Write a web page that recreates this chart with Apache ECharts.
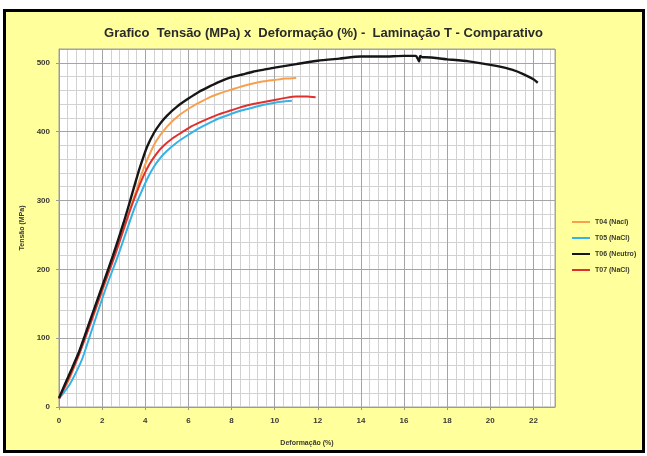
<!DOCTYPE html>
<html>
<head>
<meta charset="utf-8">
<script src="https://cdn.jsdelivr.net/npm/echarts@6/dist/echarts.min.js"></script>
<style>
  html, body { margin: 0; padding: 0; background: #fff; }
  #chart { width: 647px; height: 456px; }
</style>
</head>
<body>
<div id="chart"></div>
<script>
// Tensão (MPa) vs Deformação (%)
const seriesNames = ['T04 (Nacl)', 'T05 (NaCl)', 'T06 (Neutro)', 'T07 (NaCl)']
const seriesColors = ['#F7A04E', '#35B2E6', '#161616', '#E0302E']

const t04 = [[0,13],[0.5,42],[0.9,75],[1.5,125],[2,168],[2.58,221],[3,258],[3.3,288],[3.6,316],[3.85,340],[4.1,360],[4.5,386],[5,407],[5.5,422],[6.1,435],[6.5,442],[7,450],[7.4,455],[8,461],[8.5,466],[9,470],[9.5,473],[10,475],[10.5,477],[11,478]]
const t05 = [[0,12],[0.5,33],[1,64],[1.17,78],[1.67,126],[2.2,175],[2.75,221],[3.2,262],[3.5,289],[3.84,314],[4.1,332],[4.4,349],[4.7,362],[5,372],[5.5,385],[5.93,394],[6.5,405],[7,413],[7.4,419],[8,426],[8.5,431],[9,435],[9.5,439],[10,442],[10.5,444],[10.8,445]]
const t06 = [[0,13],[0.3,35],[0.6,56],[0.9,78],[1.2,104],[1.5,131],[2,175],[2.5,220],[3,268],[3.45,316],[3.7,343],[3.9,362],[4.1,379],[4.4,398],[4.7,412],[5,423],[5.5,437],[6,448],[6.5,458],[7,466],[7.4,472],[8,479],[8.5,483],[9,487],[9.5,490],[10,493],[11,498],[12,503],[13,506],[14,509],[15,509],[16,510],[16.55,510],[16.65,505],[16.7,502],[16.75,510],[16.85,508],[17,508],[18,505],[19,502],[20,497],[20.5,494],[21,490],[21.5,484],[22,476],[22.2,471]]
const t07 = [[0,12],[0.5,45],[0.95,78],[1.5,125],[2,170],[2.6,221],[3.1,268],[3.4,295],[3.68,318],[3.95,338],[4.2,353],[4.5,367],[4.8,378],[5.3,391],[5.8,401],[6.1,407],[6.5,413],[7,420],[7.4,425],[8,431],[8.5,436],[9,440],[9.5,443],[10,446],[10.5,449],[11,451],[11.5,451],[11.9,450]]
const allData = [t04, t05, t06, t07]

const xMax = 23
const yMax = 520

const chart = echarts.init(document.getElementById('chart'))

const labelFont = { fontSize: 8, fontWeight: 'bold', color: '#3a3a30', fontFamily: 'Liberation Sans' }

let option = {
  backgroundColor: '#ffffff',
  color: seriesColors,
  animation: false,
  graphic: [{
    type: 'rect',
    z: -100,
    shape: { x: 4.5, y: 10.5, width: 639, height: 441 },
    style: { fill: '#FFFF9C', stroke: '#000', lineWidth: 3 }
  }],
  title: {
    text: 'Grafico  Tensão (MPa) x  Deformação (%) -  Laminação T - Comparativo',
    left: 'center',
    top: 22,
    textStyle: { fontSize: 13, fontWeight: 'bold', color: '#2a2a2a', fontFamily: 'Liberation Sans' }
  },
  legend: {
    data: seriesNames,
    orient: 'vertical',
    left: 572,
    top: 217,
    icon: 'rect',
    itemWidth: 18,
    itemHeight: 2,
    itemGap: 6,
    padding: 0,
    textStyle: { fontSize: 7, fontWeight: 'bold', color: '#3a3a30', lineHeight: 10, fontFamily: 'Liberation Sans' }
  },
  grid: {
    left: 59, right: 92, top: 49, bottom: 49,
    show: true,
    backgroundColor: '#ffffff',
    borderColor: '#a0a0a0',
    borderWidth: 1
  },
  xAxis: [
    {
      type: 'value', min: 0, max: xMax, interval: 2, z: 1,
      name: 'Deformação (%)', nameLocation: 'middle', nameGap: 33,
      nameTextStyle: { fontSize: 7, fontWeight: 'bold', color: '#3a3a30', fontFamily: 'Liberation Sans' },
      axisLine: { lineStyle: { color: '#9a9a9a' } },
      axisTick: { show: true, length: 3, lineStyle: { color: '#9a9a9a' } },
      axisLabel: Object.assign({ margin: 10, showMaxLabel: false }, labelFont),
      splitLine: { lineStyle: { color: '#a4a4a4', width: 1 } }
    },
    {
      type: 'value', min: 0, max: xMax, interval: 0.4, z: 0,
      axisLine: { show: false }, axisTick: { show: false }, axisLabel: { show: false },
      splitLine: { lineStyle: { color: '#d2d2d2', width: 1 } }
    }
  ],
  yAxis: [
    {
      type: 'value', min: 0, max: yMax, interval: 100, z: 1,
      name: 'Tensão (MPa)', nameLocation: 'middle', nameGap: 33,
      nameTextStyle: { fontSize: 7, fontWeight: 'bold', color: '#3a3a30', fontFamily: 'Liberation Sans' },
      axisLine: { show: true, lineStyle: { color: '#9a9a9a' } },
      axisTick: { show: true, length: 3, lineStyle: { color: '#9a9a9a' } },
      axisLabel: Object.assign({ margin: 9, showMaxLabel: false }, labelFont),
      splitLine: { lineStyle: { color: '#a4a4a4', width: 1 } }
    },
    {
      type: 'value', min: 0, max: yMax, interval: 20, z: 0,
      axisLine: { show: false }, axisTick: { show: false }, axisLabel: { show: false },
      splitLine: { lineStyle: { color: '#d2d2d2', width: 1 } }
    }
  ],
  series: seriesNames.map((name, i) => ({
    name: name,
    type: 'line',
    xAxisIndex: 0,
    yAxisIndex: 0,
    data: allData[i],
    showSymbol: false,
    symbol: 'none',
    smooth: 0.2,
    z: 3 + (i === 2 ? 1 : 0),
    lineStyle: { width: i === 2 ? 2.4 : 2, color: seriesColors[i] }
  }))
}

chart.setOption(option)
</script>
</body>
</html>
